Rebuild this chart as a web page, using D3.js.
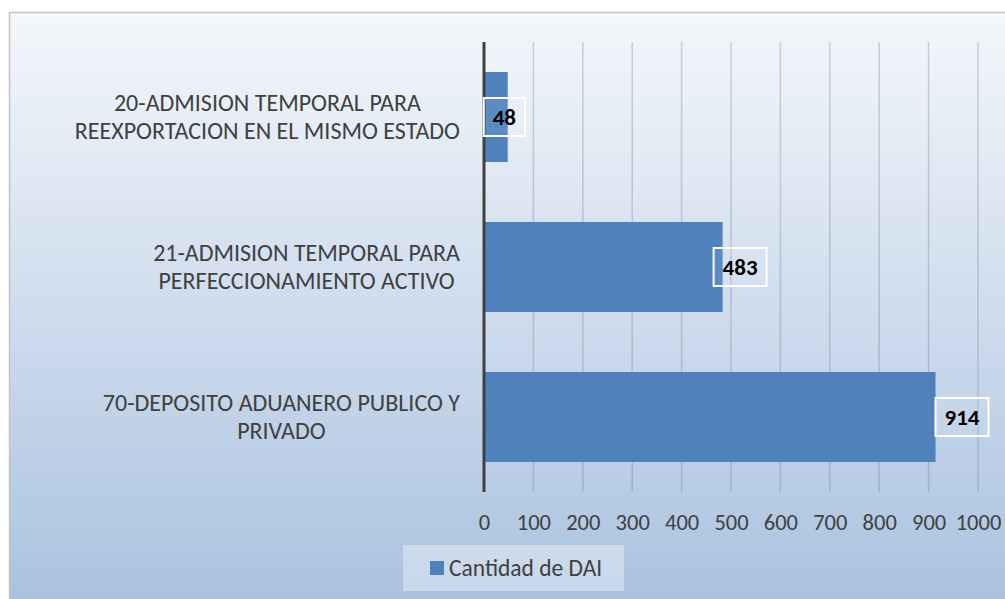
<!DOCTYPE html>
<html>
<head>
<meta charset="utf-8">
<script src="https://cdn.jsdelivr.net/npm/d3@7"></script>
<style>
  body { margin: 0; background: #fff; }
  text { font-family: Carlito, Lato, sans-serif; }
</style>
</head>
<body>
<div id="chart"></div>
<script>
// data
const categories = [
  ["20-ADMISION TEMPORAL PARA", "REEXPORTACION EN EL MISMO ESTADO"],
  ["21-ADMISION TEMPORAL PARA", "PERFECCIONAMIENTO ACTIVO "],
  ["70-DEPOSITO ADUANERO PUBLICO Y", "PRIVADO"]
]
const values = [48, 483, 914]
const xTicks = [0, 100, 200, 300, 400, 500, 600, 700, 800, 900, 1000]
const seriesName = "Cantidad de DAI"

// label boxes were nudged by hand in the original (px relative to bar end)
const labelNudge = [-24, -9, 0]

const width = 1005, height = 599
const plot = { left: 484, right: 978, top: 42, bottom: 492 }
const barColor = "#4f81bd"
const textColor = "#404040"

const svg = d3.select("#chart").append("svg")
  .attr("width", width)
  .attr("height", height)

const defs = svg.append("defs")
const grad = defs.append("linearGradient")
  .attr("id", "bg")
  .attr("x1", 0).attr("y1", 0).attr("x2", 0).attr("y2", 1)
grad.append("stop").attr("offset", "0%").attr("stop-color", "#f4f7fb")
grad.append("stop").attr("offset", "100%").attr("stop-color", "#a9c1df")

// chart area (runs off the right and bottom edge)
svg.append("rect")
  .attr("x", 9.5).attr("y", 12.5)
  .attr("width", 1010).attr("height", 600)
  .attr("fill", "url(#bg)")
  .attr("stroke", "#c3c3c3")
  .attr("stroke-width", 1.5)

const x = d3.scaleLinear()
  .domain([0, 1000])
  .range([plot.left, plot.right])

const y = d3.scaleBand()
  .domain(d3.range(values.length))
  .range([plot.top, plot.bottom])
  .paddingInner(0.4)
  .paddingOuter(0.2)

// vertical gridlines
svg.append("g")
  .selectAll("line")
  .data(xTicks.slice(1))
  .join("line")
    .attr("x1", d => x(d)).attr("x2", d => x(d))
    .attr("y1", plot.top).attr("y2", plot.bottom)
    .attr("stroke", "rgba(110,120,135,0.3)")
    .attr("stroke-width", 1.5)

// x axis labels
const xAxis = svg.append("g")
  .attr("transform", "translate(0," + plot.bottom + ")")
  .call(d3.axisBottom(x).tickValues(xTicks).tickSize(0).tickPadding(22).tickFormat(d3.format("d")))
xAxis.select(".domain").remove()
xAxis.selectAll("text")
  .attr("fill", textColor)
  .style("font-size", "22.5px")
  .style("font-family", "Carlito, Lato, sans-serif")

// bars
svg.append("g")
  .selectAll("rect")
  .data(values)
  .join("rect")
    .attr("x", x(0))
    .attr("y", (d, i) => y(i))
    .attr("width", d => x(d) - x(0))
    .attr("height", y.bandwidth())
    .attr("fill", barColor)

// category axis line
svg.append("line")
  .attr("x1", x(0)).attr("x2", x(0))
  .attr("y1", plot.top).attr("y2", plot.bottom)
  .attr("stroke", "#404040")
  .attr("stroke-width", 3)

// category labels, each block centred, right edge near the axis
const lineGap = 28
categories.forEach((lines, i) => {
  const cy = y(i) + y.bandwidth() / 2
  const g = svg.append("g")
  const texts = g.selectAll("text")
    .data(lines)
    .join("text")
      .attr("y", (d, j) => cy + (j - (lines.length - 1) / 2) * lineGap)
      .attr("dy", "0.35em")
      .attr("text-anchor", "middle")
      .attr("fill", textColor)
      .style("font-size", "24px")
      .text(d => d)
  let maxW = 0
  texts.each(function() { maxW = Math.max(maxW, this.getComputedTextLength()) })
  texts.attr("x", 460 - maxW / 2)
})

// data labels in white outlined boxes
values.forEach((v, i) => {
  const cy = y(i) + y.bandwidth() / 2
  const g = svg.append("g")
  const t = g.append("text")
    .attr("y", cy)
    .attr("dy", "0.35em")
    .attr("fill", "#000")
    .style("font-size", "23px")
    .style("font-weight", "bold")
    .text(v)
  const tw = t.node().getComputedTextLength()
  const boxW = tw + 18
  const left = x(v) + labelNudge[i]
  t.attr("x", left + boxW / 2).attr("text-anchor", "middle")
  g.insert("rect", "text")
    .attr("x", left).attr("y", cy - 19)
    .attr("width", boxW).attr("height", 38)
    .attr("fill", "rgba(255,255,255,0.08)")
    .attr("stroke", "#fff")
    .attr("stroke-width", 2)
})

// legend
const legend = svg.append("g")
legend.append("rect")
  .attr("x", 403).attr("y", 545)
  .attr("width", 221).attr("height", 46)
  .attr("fill", "rgba(255,255,255,0.35)")
legend.append("rect")
  .attr("x", 430).attr("y", 561)
  .attr("width", 14).attr("height", 14)
  .attr("fill", barColor)
legend.append("text")
  .attr("x", 449).attr("y", 568)
  .attr("dy", "0.35em")
  .attr("fill", textColor)
  .style("font-size", "23.5px")
  .text(seriesName)
</script>
</body>
</html>
